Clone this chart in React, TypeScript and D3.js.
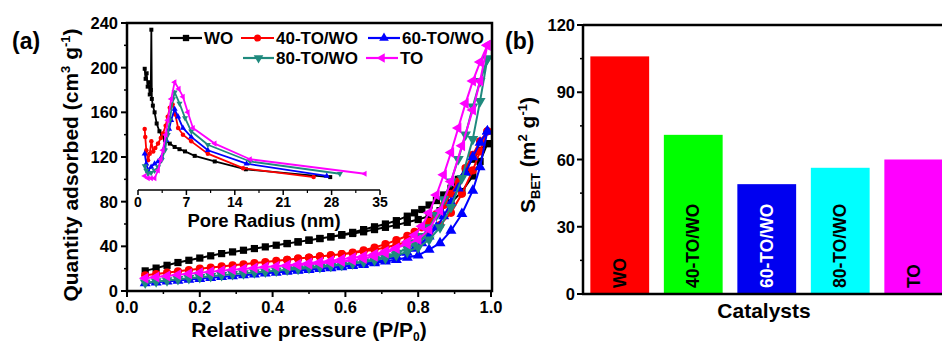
import React from 'react';
import * as d3 from 'd3';

// ---------- Panel (a): N2 isotherms ----------
const P_ADS = [0.05, 0.08, 0.11, 0.14, 0.17, 0.2, 0.23, 0.26, 0.29, 0.32, 0.35, 0.38, 0.41, 0.44, 0.47, 0.5, 0.53, 0.56, 0.59, 0.62, 0.65, 0.68, 0.71, 0.74, 0.77, 0.8, 0.83, 0.86, 0.89, 0.92, 0.95, 0.97, 0.99];
const P_DES = [0.99, 0.97, 0.95, 0.93, 0.91, 0.89, 0.87, 0.85, 0.83, 0.81, 0.79, 0.77, 0.74, 0.71, 0.68, 0.65, 0.62, 0.59, 0.56, 0.53, 0.5, 0.47, 0.44];

const WO_ADS = [18, 20.5, 23, 25.5, 27.5, 29.5, 31.5, 33.5, 35, 36.5, 38, 39.5, 41, 42.5, 44, 45.5, 47, 48.5, 50, 51.5, 53, 55, 57, 59, 61.5, 64, 67, 72, 79, 89, 103, 116, 132];
const WO_DES = [132, 126, 118, 109, 100, 92, 86, 81, 77, 73, 70, 67, 63, 60, 57.5, 55, 52.5, 50.5, 48.5, 47, 45.5, 44, 42.5];
const T40_ADS = [14, 15.2, 16.4, 17.6, 18.8, 20, 21, 22, 23, 24, 25, 26, 27, 28, 29, 30, 31, 32, 33, 34, 35.5, 37, 39, 41.5, 44, 47, 52, 59, 70, 87, 108, 125, 143];
const T40_DES = [143, 134, 122, 110, 98, 87, 77, 69, 62, 57, 53, 49.5, 45.5, 42, 39, 36.5, 34.5, 33, 32, 31, 30, 29, 28];
const T60_ADS = [7, 7.8, 8.6, 9.4, 10.2, 11, 11.8, 12.6, 13.4, 14.2, 15, 15.8, 16.6, 17.4, 18.2, 19, 19.8, 20.6, 21.5, 22.5, 23.5, 25, 26.5, 28, 30, 32, 37, 43, 54, 69, 90, 111, 143];
const T60_DES = [143, 133, 120, 106, 92, 79, 67, 57, 49, 43, 38, 34.5, 31, 28, 26, 24.5, 23, 22, 21, 20.2, 19.5, 18.8, 18];
const T80_ADS = [7.5, 8.5, 9.5, 10.5, 11.5, 12.4, 13.3, 14.2, 15, 15.8, 16.6, 17.4, 18.2, 19, 19.8, 20.6, 21.4, 22.4, 23.4, 24.6, 26, 27.5, 29.5, 32, 35, 39, 46, 57, 75, 101, 136, 170, 208];
const T80_DES = [208, 188, 165, 140, 118, 98, 82, 68, 57, 49, 43, 38, 34, 31, 28.5, 26.5, 25, 24, 23, 22.2, 21.5, 21, 20.5];
const TO_ADS = [11.5, 12.5, 13.5, 14.5, 15.5, 16.4, 17.3, 18.2, 19, 19.8, 20.6, 21.4, 22.2, 23, 24, 25, 26, 27.2, 28.4, 29.8, 31.2, 33, 35.5, 38.5, 42, 46, 55, 72, 98, 130, 162, 188, 220];
const TO_DES = [220, 205, 188, 168, 146, 124, 104, 86, 70, 58, 50, 44, 38, 34, 31, 29, 27.5, 26.5, 25.5, 24.8, 24, 23.2, 22.5];

// ---------- Inset: pore size distribution (y read in main-axis units) ----------
const WO_R = [0.97, 1.1, 1.25, 1.4, 1.55, 1.7, 1.85, 1.93, 2.0, 2.15, 2.4, 2.7, 3.1, 3.5, 3.9, 4.6, 5.3, 6.0, 6.8, 8.2, 11.1, 15.6, 27.8];
const WO_V = [199, 190, 195, 183, 187, 176, 180, 234, 172, 166, 160, 150, 143, 139, 135, 132, 129, 127, 125, 121, 116, 109, 102];
const T40_R = [0.97, 1.05, 1.2, 1.45, 1.7, 1.93, 2.2, 2.5, 2.9, 3.3, 3.6, 4.0, 4.3, 4.6, 5.0, 5.4, 5.8, 6.5, 7.7, 10.1, 15.2, 25.4];
const T40_V = [145, 138, 126, 117, 123, 134, 125, 128, 132, 137, 141, 148, 156, 164, 167, 158, 146, 140, 134, 123, 110, 102];
const T60_R = [0.97, 1.2, 1.45, 1.9, 2.4, 2.9, 3.4, 3.8, 4.1, 4.5, 4.8, 5.3, 5.8, 6.5, 7.7, 10.1, 15.7, 27.3];
const T60_V = [123, 114, 108, 111, 114, 116, 120, 128, 135, 145, 153, 163, 156, 146, 138, 126, 114, 103];
const T80_R = [0.97, 1.2, 1.45, 1.9, 2.4, 2.9, 3.4, 3.9, 4.3, 4.6, 5.06, 5.3, 6.0, 6.8, 7.7, 10.1, 16.2, 29.2];
const T80_V = [112, 108, 105, 106, 108, 111, 117, 126, 140, 153, 172, 178, 168, 155, 143, 131, 116, 105];
const TO_R = [0.97, 1.45, 1.9, 2.4, 2.9, 3.3, 3.6, 4.0, 4.3, 4.8, 5.3, 5.9, 6.5, 7.2, 7.95, 11.1, 16.2, 32.8];
const TO_V = [103, 101, 101, 101, 108, 118, 126, 140, 153, 172, 187, 181, 174, 160, 146, 132, 118, 105];

const A_Y_TICKS = [0, 40, 80, 120, 160, 200, 240];
const A_X_TICKS = [0, 0.2, 0.4, 0.6, 0.8, 1.0];
const INSET_TICKS = [0, 7, 14, 21, 28, 35];

// ---------- Panel (b): BET surface area ----------
const CATS = ['WO', '40-TO/WO', '60-TO/WO', '80-TO/WO', 'TO'];
const SBET = [106, 71, 49, 56.3, 60];
const B_Y_TICKS = [0, 30, 60, 90, 120];

const FONT = "Arial, 'Liberation Sans', Helvetica, sans-serif";

const SERIES = [
  { name: 'WO', color: '#000000', type: d3.symbolSquare, rot: 0, size: 52, ads: WO_ADS, des: WO_DES, r: WO_R, v: WO_V },
  { name: '40-TO/WO', color: '#ff0000', type: d3.symbolCircle, rot: 0, size: 52, ads: T40_ADS, des: T40_DES, r: T40_R, v: T40_V },
  { name: '60-TO/WO', color: '#0000ff', type: d3.symbolTriangle, rot: 0, size: 52, ads: T60_ADS, des: T60_DES, r: T60_R, v: T60_V },
  { name: '80-TO/WO', color: '#1f8a7e', type: d3.symbolTriangle, rot: 180, size: 52, ads: T80_ADS, des: T80_DES, r: T80_R, v: T80_V },
  { name: 'TO', color: '#ff00ff', type: d3.symbolTriangle, rot: -90, size: 52, ads: TO_ADS, des: TO_DES, r: TO_R, v: TO_V },
];

const BAR_COLORS = ['#ff0000', '#00ff00', '#0000f0', '#00ffff', '#ff00ff'];
const BAR_TEXT = ['#000', '#000', '#fff', '#000', '#000'];

export default function App() {
  const x = d3.scaleLinear().domain([0, 1]).range([127, 491]);
  const y = d3.scaleLinear().domain([0, 240]).range([291, 23]);
  const ix = d3.scaleLinear().domain([0, 35]).range([138, 380]);
  const iy = d3.scaleLinear().domain([0, 240]).range([291, 23]);
  const bx = d3.scaleBand().domain(CATS).range([583, 950.5]).paddingInner(0.2).paddingOuter(0.1);
  const by = d3.scaleLinear().domain([0, 120]).range([294, 25]);

  const line = d3.line<[number, number]>().x(d => d[0]).y(d => d[1]);

  const minorA_Y = d3.range(20, 240, 40);
  const minorA_X = d3.range(0.1, 1, 0.2);
  const minorInset = d3.range(3.5, 35, 7);
  const minorB = [15, 45, 75, 105];

  const legend = [
    { i: 0, x1: 170, x2: 202, y: 38 },
    { i: 1, x1: 241, x2: 274, y: 38 },
    { i: 2, x1: 368, x2: 400, y: 38 },
    { i: 3, x1: 243, x2: 274, y: 58 },
    { i: 4, x1: 366, x2: 398, y: 58 },
  ];

  return (
    <svg width={942} height={343} style={{ position: 'absolute', left: 0, top: 0, background: '#fff' }}
      fontFamily={FONT} fontWeight="bold">
      <rect x={0} y={0} width={942} height={343} fill="#fff" />
      {/* ---------- Panel (a) ---------- */}
      {SERIES.map((s, si) => {
        const pts: [number, number][] = [
          ...P_ADS.map((p, k) => [x(p), y(s.ads[k])] as [number, number]),
          ...P_DES.map((p, k) => [x(p), y(s.des[k])] as [number, number]),
        ];
        const sym = d3.symbol().type(s.type).size(s.size)();
        return (
          <g key={'iso' + si}>
            <path d={line(pts) || ''} fill="none" stroke={s.color} strokeWidth={2} />
            {pts.map((pt, k) => (
              <path key={k} d={sym || ''} fill={s.color}
                transform={`translate(${pt[0]},${pt[1]}) rotate(${s.rot})`} />
            ))}
          </g>
        );
      })}
      {/* inset curves */}
      {SERIES.map((s, si) => {
        const pts: [number, number][] = s.r.map((r, k) => [ix(r), iy(s.v[k])] as [number, number]);
        const sym = d3.symbol().type(s.type).size(16)();
        return (
          <g key={'ins' + si}>
            <path d={line(pts) || ''} fill="none" stroke={s.color} strokeWidth={1.8} />
            {pts.map((pt, k) => (
              <path key={k} d={sym || ''} fill={s.color}
                transform={`translate(${pt[0]},${pt[1]}) rotate(${s.rot})`} />
            ))}
          </g>
        );
      })}
      {/* inset axis */}
      <line x1={ix(0)} x2={ix(35)} y1={190} y2={190} stroke="#000" strokeWidth={1.5} />
      {INSET_TICKS.map(t => (
        <g key={'it' + t}>
          <line x1={ix(t)} x2={ix(t)} y1={190} y2={195} stroke="#000" strokeWidth={1.5} />
          <text x={ix(t)} y={207} fontSize={14} textAnchor="middle">{t}</text>
        </g>
      ))}
      {minorInset.map(t => (
        <line key={'im' + t} x1={ix(t)} x2={ix(t)} y1={190} y2={193} stroke="#000" strokeWidth={1.2} />
      ))}
      <text x={264} y={227} fontSize={18.5} textAnchor="middle">Pore Radius (nm)</text>

      {/* legend */}
      {legend.map(L => {
        const s = SERIES[L.i];
        const sym = d3.symbol().type(s.type).size(40)();
        return (
          <g key={'lg' + L.i}>
            <line x1={L.x1} x2={L.x2} y1={L.y} y2={L.y} stroke={s.color} strokeWidth={2.2} />
            <path d={sym || ''} fill={s.color} transform={`translate(${(L.x1 + L.x2) / 2},${L.y}) rotate(${s.rot})`} />
            <text x={L.x2 + 2} y={L.y + 6} fontSize={17}>{s.name}</text>
          </g>
        );
      })}

      {/* axes frame */}
      <rect x={127} y={23} width={365} height={268} fill="none" stroke="#000" strokeWidth={2.5} />
      {A_Y_TICKS.map(t => (
        <g key={'ay' + t}>
          <line x1={121} x2={127} y1={y(t)} y2={y(t)} stroke="#000" strokeWidth={2} />
          <text x={118} y={y(t) + 6} fontSize={16.5} textAnchor="end">{t}</text>
        </g>
      ))}
      {minorA_Y.map(t => (
        <line key={'amy' + t} x1={124} x2={127} y1={y(t)} y2={y(t)} stroke="#000" strokeWidth={1.5} />
      ))}
      {A_X_TICKS.map(t => (
        <g key={'ax' + t}>
          <line x1={x(t)} x2={x(t)} y1={291} y2={297} stroke="#000" strokeWidth={2} />
          <text x={x(t)} y={313} fontSize={16.5} textAnchor="middle">{t.toFixed(1)}</text>
        </g>
      ))}
      {minorA_X.map(t => (
        <line key={'amx' + t} x1={x(t)} x2={x(t)} y1={291} y2={294} stroke="#000" strokeWidth={1.5} />
      ))}
      <text transform="translate(78,165) rotate(-90)" fontSize={21} textAnchor="middle">
        Quantity adsorbed (cm<tspan dy={-8} fontSize={13}>3</tspan><tspan dy={8}> g</tspan><tspan dy={-8} fontSize={13}>-1</tspan><tspan dy={8}>)</tspan>
      </text>
      <text x={309} y={337} fontSize={21} textAnchor="middle">
        Relative pressure (P/P<tspan dy={3.5} fontSize={12}>0</tspan><tspan dy={-3.5}>)</tspan>
      </text>
      <text x={12} y={49} fontSize={23}>(a)</text>

      {/* ---------- Panel (b) ---------- */}
      {CATS.map((c, k) => (
        <g key={'bar' + c}>
          <rect x={bx(c)} y={by(SBET[k])} width={bx.bandwidth()} height={by(0) - by(SBET[k])} fill={BAR_COLORS[k]} />
          <text transform={`translate(${(bx(c) || 0) + bx.bandwidth() / 2},${288}) rotate(-90)`}
            fontSize={17.5} dominantBaseline="central" fill={BAR_TEXT[k]}>{c}</text>
        </g>
      ))}
      <line x1={583} x2={942} y1={25} y2={25} stroke="#000" strokeWidth={2.5} />
      <line x1={583} x2={583} y1={25} y2={295} stroke="#000" strokeWidth={2.5} />
      <line x1={582} x2={942} y1={294} y2={294} stroke="#000" strokeWidth={2.5} />
      {B_Y_TICKS.map(t => (
        <g key={'by' + t}>
          <line x1={577} x2={583} y1={by(t)} y2={by(t)} stroke="#000" strokeWidth={2} />
          <text x={575} y={by(t) + 6} fontSize={16.5} textAnchor="end">{t}</text>
        </g>
      ))}
      {minorB.map(t => (
        <line key={'bm' + t} x1={580} x2={583} y1={by(t)} y2={by(t)} stroke="#000" strokeWidth={1.5} />
      ))}
      <text transform="translate(535,155) rotate(-90)" fontSize={21} textAnchor="middle">
        S<tspan dy={5} fontSize={13}>BET</tspan><tspan dy={-5}> (m</tspan><tspan dy={-8} fontSize={13}>2</tspan><tspan dy={8}> g</tspan><tspan dy={-8} fontSize={13}>-1</tspan><tspan dy={8}>)</tspan>
      </text>
      <text x={764} y={318} fontSize={21} textAnchor="middle">Catalysts</text>
      <text x={505} y={49} fontSize={23}>(b)</text>
    </svg>
  );
}
